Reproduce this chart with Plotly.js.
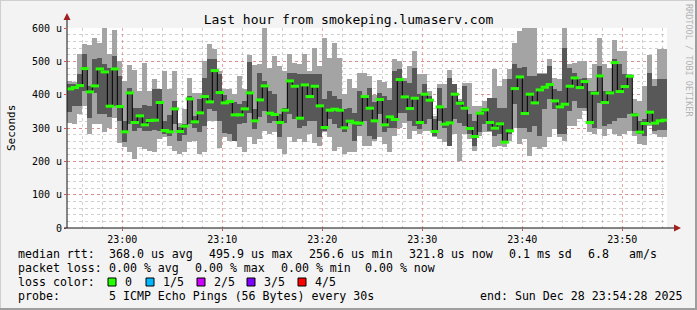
<!DOCTYPE html>
<html><head><meta charset="utf-8">
<script src="https://cdn.plot.ly/plotly-3.0.1.min.js"></script>
<style>html,body{margin:0;padding:0;background:#f3f3f3;}#c{width:697px;height:310px;}</style>
</head><body><div id="c"></div>
<script>
// ---- data (microseconds), one value per 30 s bin, 5 pings sorted ----
const pingMax = [442,440,524,552,549,572,557,600,522,594,502,442,490,475,412,497,412,447,417,472,417,472,317,357,452,407,407,502,552,537,
 472,417,417,402,457,417,519,490,492,602,482,516,487,472,522,497,494,524,472,542,487,572,512,557,512,402,447,422,467,467,
 457,400,444,439,422,507,502,452,487,532,462,462,412,337,432,432,474,432,387,437,437,367,367,382,392,477,427,447,477,557,
 592,602,602,602,467,467,507,452,447,602,492,497,502,502,452,492,570,492,482,564,532,532,462,387,382,427,520,447,537,537];
const pingQ4 = [432,434,464,522,427,509,512,494,482,517,457,322,420,360,360,369,367,417,417,322,340,382,305,312,397,337,387,452,507,507,
 462,400,382,380,372,382,499,357,467,442,412,402,342,362,467,467,464,462,462,462,464,387,412,397,387,357,362,347,412,397,
 420,380,407,397,384,472,477,442,437,482,402,432,397,327,420,362,452,432,382,427,342,322,347,362,392,392,362,362,447,492,
 482,484,457,457,462,462,487,417,412,542,482,467,447,452,412,412,487,412,412,507,492,462,457,347,322,327,467,427,447,447];
const pingMedian = [418,422,428,479,409,427,478,469,366,478,365,289,406,317,337,310,323,324,377,293,289,358,290,306,388,319,346,395,379,473,
 407,376,380,340,340,358,406,322,385,427,345,341,317,354,442,426,330,430,395,426,367,302,354,357,354,301,321,316,315,395,
 360,322,386,310,334,326,446,394,359,390,317,402,384,290,364,312,316,402,375,360,299,275,345,355,317,300,313,258,292,419,
 454,344,402,376,415,423,431,382,364,372,426,451,422,440,317,405,457,377,406,497,410,425,456,340,288,314,348,315,322,324];
const pingQ2 = [350,367,367,412,332,407,344,342,334,367,322,257,312,290,300,292,290,295,292,282,275,312,262,280,312,302,287,307,357,352,
 322,284,282,262,312,317,347,297,334,352,317,322,272,317,342,327,302,307,322,322,272,292,327,312,302,287,317,262,307,322,
 277,267,342,287,302,302,347,347,322,307,297,312,327,277,322,302,247,327,317,307,282,247,287,312,292,277,282,254,282,372,
 302,302,287,307,277,357,387,357,282,282,352,382,362,362,312,302,377,307,312,322,332,332,342,292,282,277,317,292,295,295];
const pingMin = [317,312,344,367,282,312,312,287,302,332,254,244,227,207,242,237,232,227,267,272,247,232,222,227,257,262,222,227,322,322,
 240,272,262,262,242,227,272,252,267,292,282,287,237,222,272,257,267,257,282,254,247,287,272,232,242,222,227,227,277,247,
 247,262,272,252,227,277,302,317,267,292,282,292,292,272,267,257,247,282,202,282,267,232,277,287,287,242,247,244,262,302,
 252,267,217,242,237,242,272,297,272,260,307,307,327,352,287,282,297,277,297,282,277,282,292,277,252,250,307,282,272,272];
const yTickVals = [0,100,200,300,400,500,600];
const yTickText = ['0','100 u','200 u','300 u','400 u','500 u','600 u'];
const startMs = Date.UTC(2025,11,28,22,54,30);   // first bin start
const stepMs = 30000;
const rangeStart = Date.UTC(2025,11,28,22,54,28);
const rangeEnd = Date.UTC(2025,11,28,23,54,28);

// ---- derived ----
const n = pingMedian.length;
const centers = [], starts = [];
for (let i=0;i<n;i++){ starts.push(startMs+i*stepMs); centers.push(startMs+i*stepMs+stepMs/2); }
const outerH = pingMax.map((v,i)=>v-pingMin[i]);
const innerH = pingQ4.map((v,i)=>v-pingQ2[i]);
const stepX = starts.concat([startMs+n*stepMs]);
const stepY = pingMedian.concat([pingMedian[n-1]]);

const traces = [
 {type:'bar', x:centers, y:outerH, base:pingMin, width:stepMs, marker:{color:'#a4a4a4', line:{width:0}}, hoverinfo:'skip'},
 {type:'bar', x:centers, y:innerH, base:pingQ2, width:stepMs, marker:{color:'#585858', line:{width:0}}, hoverinfo:'skip'},
 {type:'scatter', mode:'lines', x:stepX, y:stepY, line:{shape:'hv', color:'#000000', width:1}, hoverinfo:'skip'},
 {type:'scatter', mode:'markers', x:centers, y:pingMedian, marker:{symbol:'line-ew', size:6, line:{color:'#26ff00', width:3}}, hoverinfo:'skip'}
];

const L=67, R=667, T=28, B=228, W=600, H=200;
const px = x => (x-L)/W;
const py = y => (B-y)/H;
const mono = 'DejaVu Sans Mono';
const ann = [];
function txt(x,y,s,size,extra){ ann.push(Object.assign({xref:'paper',yref:'paper',x:px(x),y:py(y),text:s,showarrow:false,xanchor:'left',yanchor:'middle',font:{family:mono,size:size||11.6,color:'#000'}},extra||{})); }
// legend rows
txt(16,254,'median rtt:'); txt(107,254,'368.0 us avg'); txt(207,254,'495.9 us max'); txt(307,254,'256.6 us min');
txt(407,254,'321.8 us now'); txt(507,254,'0.1 ms sd'); txt(586,254,'6.8'); txt(627,254,'am/s');
txt(16,268,'packet loss:'); txt(107,268,'0.00 % avg'); txt(193,268,'0.00 % max'); txt(279,268,'0.00 % min'); txt(363,268,'0.00 % now');
txt(16,282,'loss color:');
const lossLabels = ['0','1/5','2/5','3/5','4/5'];
const lossColors = ['#26ff00','#00b8ff','#cc00ff','#7e00ff','#ff0000'];
const lossBoxX = [108,146,197,247,298];
const shapes = [];
lossLabels.forEach((l,i)=>{
  txt(lossBoxX[i]+15,282,l);
  shapes.push({type:'rect',xref:'paper',yref:'paper',x0:px(lossBoxX[i]),x1:px(lossBoxX[i]+8),y0:py(286),y1:py(278),fillcolor:lossColors[i],line:{color:'#000',width:1}});
});
txt(16,296,'probe:'); txt(107,296,'5 ICMP Echo Pings (56 Bytes) every 30s'); txt(478,296,'end: Sun Dec 28 23:54:28 2025');
// axis title + watermark
ann.push({xref:'paper',yref:'paper',x:px(11),y:py(128),text:'Seconds',showarrow:false,textangle:-90,xanchor:'center',yanchor:'middle',font:{family:mono,size:11,color:'#000'}});
ann.push({xref:'paper',yref:'paper',x:px(689),y:py(60),text:'RRDTOOL / TOBI OETIKER',showarrow:false,textangle:90,xanchor:'center',yanchor:'middle',font:{family:mono,size:8.5,color:'#b4b4b4'}});

// axes lines + arrows
shapes.push({type:'line',xref:'paper',yref:'paper',x0:px(67),x1:px(67),y0:py(228),y1:py(20),line:{color:'#101010',width:1}});
shapes.push({type:'line',xref:'paper',yref:'paper',x0:px(64),x1:px(674),y0:py(228),y1:py(228),line:{color:'#101010',width:1}});
shapes.push({type:'path',xref:'paper',yref:'paper',path:`M ${px(63.5)} ${py(20)} L ${px(70.5)} ${py(20)} L ${px(67)} ${py(13)} Z`,fillcolor:'#a02020',line:{width:0}});
shapes.push({type:'path',xref:'paper',yref:'paper',path:`M ${px(674)} ${py(224.5)} L ${px(674)} ${py(231.5)} L ${px(681)} ${py(228)} Z`,fillcolor:'#a02020',line:{width:0}});
// border
shapes.push({type:'rect',xref:'paper',yref:'paper',x0:px(0),x1:px(697),y0:py(310),y1:py(0),line:{color:'#cfcfcf',width:2},fillcolor:'rgba(0,0,0,0)',layer:'below'});
shapes.push({type:'line',xref:'paper',yref:'paper',x0:px(0),x1:px(697),y0:py(309),y1:py(309),line:{color:'#9e9e9e',width:2}});
shapes.push({type:'line',xref:'paper',yref:'paper',x0:px(696),x1:px(696),y0:py(310),y1:py(0),line:{color:'#9e9e9e',width:2}});

const layout = {
  width:697, height:310, margin:{l:L,r:697-R,t:T,b:310-B},
  paper_bgcolor:'#f3f3f3', plot_bgcolor:'#ffffff', showlegend:false, barmode:'overlay', bargap:0,
  title:{text:'Last hour from smokeping.lumaserv.com', x:0.5, xref:'container', y:1-19/310, yref:'container', yanchor:'middle', xanchor:'center', font:{family:mono,size:13,color:'#000'}},
  xaxis:{type:'date', range:[rangeStart,rangeEnd], tickformat:'%H:%M', dtick:600000, tick0:Date.UTC(2025,11,28,23,0,0),
    showgrid:true, gridcolor:'rgba(222,80,80,0.5)', griddash:'dot', gridwidth:1,
    minor:{dtick:120000, tick0:Date.UTC(2025,11,28,23,0,0), showgrid:true, gridcolor:'rgba(150,150,150,0.45)', griddash:'dot', gridwidth:1},
    ticks:'outside', ticklen:2, tickcolor:'#de5050', showline:false, zeroline:false, fixedrange:true,
    tickfont:{family:mono,size:10,color:'#000'}},
  yaxis:{range:[0,601], tickvals:yTickVals, ticktext:yTickText,
    showgrid:true, gridcolor:'rgba(222,80,80,0.5)', griddash:'dot', gridwidth:1,
    minor:{dtick:20, showgrid:true, gridcolor:'rgba(150,150,150,0.45)', griddash:'dot', gridwidth:1},
    ticks:'outside', ticklen:2, tickcolor:'#de5050', showline:false, zeroline:false, fixedrange:true,
    tickfont:{family:mono,size:10,color:'#000'}},
  annotations:ann, shapes:shapes
};
Plotly.newPlot('c', traces, layout, {staticPlot:true, displayModeBar:false});
</script></body></html>
